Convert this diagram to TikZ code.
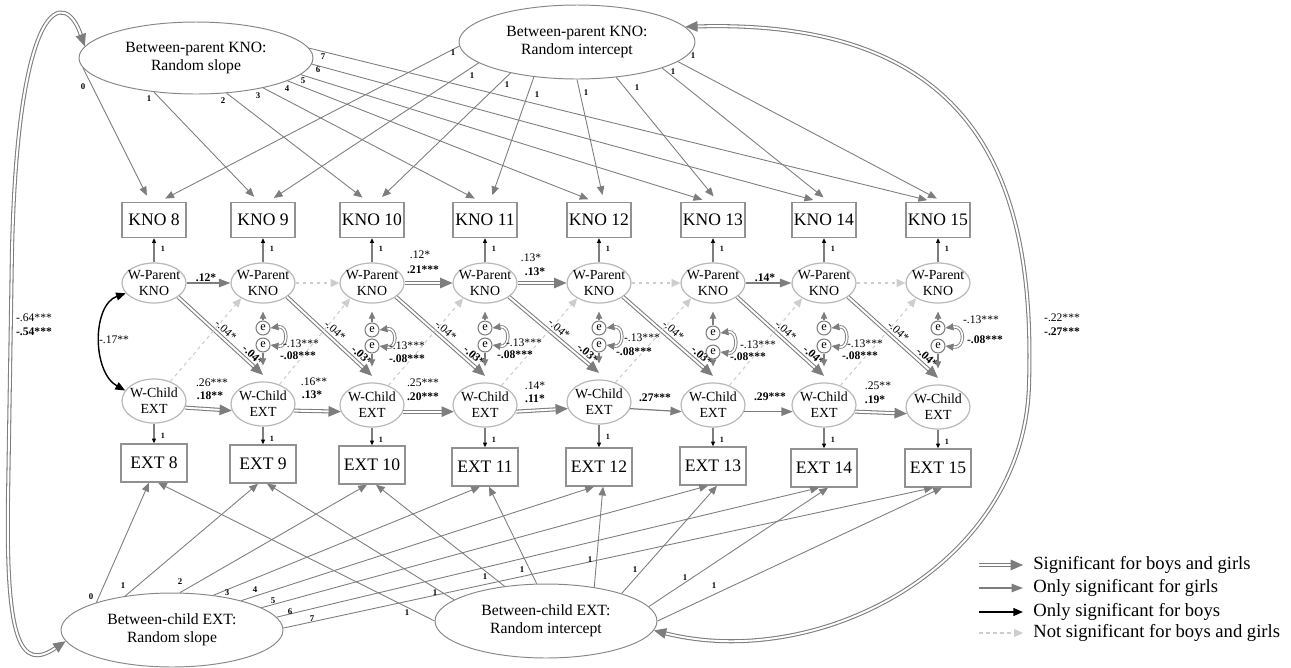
\documentclass[tikz,border=0pt]{standalone}
\usepackage{fontspec}
\setmainfont{Liberation Serif}
\usetikzlibrary{shapes.geometric,arrows.meta}
\definecolor{ln}{RGB}{125,125,125}
\definecolor{bx}{RGB}{145,145,145}
\definecolor{el}{RGB}{185,185,185}
\definecolor{ns}{RGB}{205,205,205}
\definecolor{bg}{RGB}{135,135,135}
\tikzset{
 kbox/.style={draw=bx, line width=0.8pt, minimum width=1.28cm, minimum height=0.70cm, inner sep=0pt, font=\fontsize{10}{12}\selectfont},
 ebox/.style={kbox, minimum width=1.32cm, minimum height=0.76cm},
 bell/.style={ellipse, draw=bg, line width=0.55pt, inner sep=0pt, align=center, font=\fontsize{8.9}{10.2}\selectfont},
 wtxt/.style={align=center, font=\fontsize{7.9}{9}\selectfont, inner sep=0pt},
 pell/.style={ellipse, draw=el, line width=0.7pt, minimum width=1.28cm, minimum height=0.80cm, inner sep=0pt, label={[wtxt]center:W-Parent\\KNO}},
 cell/.style={ellipse, draw=el, line width=0.7pt, minimum width=1.28cm, minimum height=0.88cm, inner sep=0pt, label={[wtxt]center:W-Child\\EXT}},
 ecirc/.style={circle, draw=ln, line width=0.6pt, minimum size=0.28cm, inner sep=0pt, font=\fontsize{7}{8}\selectfont},
 girls/.style={draw=ln, line width=0.7pt, -{Triangle[length=6.5pt,width=4.8pt]}},
 both/.style={draw=ln, line width=0.6pt, double=white, double distance=1.1pt, -{Triangle[length=7pt,width=6pt]}},
 boys/.style={draw=black, line width=0.8pt, -{Triangle[length=5.5pt,width=4.5pt]}},
 boyscov/.style={draw=black, line width=0.8pt, {Triangle[length=5.5pt,width=4.5pt]}-{Triangle[length=5.5pt,width=4.5pt]}},
 nons/.style={draw=ns, line width=0.6pt, dash pattern=on 2pt off 2pt, -{Triangle[length=5pt,width=4.5pt]}},
 load/.style={draw=ln, line width=0.5pt, -{Triangle[length=5pt,width=4.2pt]}},
 fact/.style={draw=ln, line width=0.6pt, -{Triangle[length=2.6pt,width=2.2pt,color=black]}},
 earr/.style={draw=ln, line width=0.6pt, -{Triangle[length=4pt,width=3.6pt]}},
 ecov/.style={draw=ln, line width=0.5pt, double=white, double distance=0.9pt, {Triangle[length=4.5pt,width=4pt]}-{Triangle[length=4.5pt,width=4pt]}},
 bigcov/.style={draw=ln, line width=0.6pt, double=white, double distance=1.1pt, {Triangle[length=7pt,width=6pt]}-{Triangle[length=7pt,width=6pt]}},
 cf/.style={font=\fontsize{6.6}{7.5}\selectfont, inner sep=0pt},
 one/.style={font=\bfseries\fontsize{4.6}{5}\selectfont, inner sep=0pt},
 num/.style={font=\bfseries\fontsize{5}{6}\selectfont, inner sep=0pt},
 leg/.style={font=\fontsize{10.6}{12}\selectfont, anchor=west, inner sep=0pt}
}
\begin{document}
\begin{tikzpicture}[x=0.02cm,y=-0.02cm]
\useasboundingbox (0,0) rectangle (1291,667);
% between-level latent variables
\node[bell, minimum width=4.68cm, minimum height=1.44cm] (BPS) at (196,58) {Between-parent KNO:\\Random slope};
\node[bell, minimum width=4.72cm, minimum height=1.48cm] (BPI) at (577,42) {Between-parent KNO:\\Random intercept};
\node[bell, minimum width=4.44cm, minimum height=1.48cm] (BCS) at (172,630) {Between-child EXT:\\Random slope};
\node[bell, minimum width=4.44cm, minimum height=1.48cm] (BCI) at (546,621) {Between-child EXT:\\Random intercept};
% columns
\foreach \t/\x/\cy/\ey in {8/154/401/463,9/263/404/464,10/372/405/465,11/485/405/467,12/599/402/467,13/713/405/466,14/824/405/468,15/938/407/468}{
  \node[kbox] (K\t) at (\x,220) {KNO \t};
  \node[pell] (P\t) at (\x,283) {};
  \node[cell] (C\t) at (\x,\cy) {};
  \node[ebox] (E\t) at (\x,\ey) {EXT \t};
  \draw[fact] (P\t) -- (K\t);
  \draw[fact] (C\t) -- (E\t);
  \node[one] (lk\t) at (\x+9,249) {1};
  \node[one] (le\t) at (\x+9,\cy+35) {1};
}
% top loadings
\foreach \t/\s/\i in {8/185/182,9/219/192,10/311/205,11/336/219,12/346/270,13/351/318,14/357/343,15/5/349}{
  \draw[load, shorten >=0.14cm] (BPS.\s) -- ([xshift=-0.08cm]K\t.north);
  \draw[load, shorten >=0.14cm] (BPI.\i) -- ([xshift=0.1cm]K\t.north);
}
\foreach \v/\px/\py in {0/83/87,1/149/99,2/223/101,3/258/96,4/287/89,5/303/81,6/318/70,7/323/57}
  \node[num] (ts\v) at (\px,\py) {\v};
\foreach \px/\py [count=\n] in {453/53,472/76,507/85,537/95,586/93,637/88,673/72,693/56}
  \node[num] (ti\n) at (\px,\py) {1};
% bottom loadings
\foreach \t/\s/\i in {8/160/180,9/144/167,10/78/140,11/40/104,12/23/35,13/14/20,14/7/8,15/1/0}{
  \draw[load] (BCS.\s) -- ([xshift=-0.1cm]E\t.south);
  \draw[load] (BCI.\i) -- ([xshift=0.08cm]E\t.south);
}
\foreach \v/\px/\py in {0/91/597,1/123/586,2/180/582,3/227/593,4/255/590,5/273/601,6/290/612,7/312/619}
  \node[num] (bs\v) at (\px,\py) {\v};
\foreach \px/\py [count=\n] in {407/613,435/593,485/577,522/570,590/560,635/570,685/578,714/586}
  \node[num] (bi\n) at (\px,\py) {1};
% autoregressive parent
\draw[girls] (P8) -- (P9);
\draw[nons] (P9) -- (P10);
\draw[both] (P10) -- (P11);
\draw[both] (P11) -- (P12);
\draw[nons] (P12) -- (P13);
\draw[girls] (P13) -- (P14);
\draw[nons] (P14) -- (P15);
% autoregressive child
\draw[both] (C8.-12) -- (C9.192);
\draw[both] (C9.-12) -- (C10.192);
\draw[both] (C10.-12) -- (C11.192);
\draw[both] (C11.-12) -- (C12.192);
\draw[girls] (C12.-12) -- (C13.192);
\draw[girls] (C13.-12) -- (C14.192);
\draw[both] (C14.-12) -- (C15.192);
% cross-lagged
\foreach \a/\b/\u in {8/9/.04,9/10/.03,10/11/.03,11/12/.03,12/13/.03,13/14/.04,14/15/.04}{
  \draw[both] (P\a.-30) -- ([yshift=0.13cm]C\b.north)
    node[cf, pos=0.5, above=2pt, sloped] {-.04*}
    node[cf, pos=0.82, above=2pt, sloped] {\textbf{-\u*}};
  \draw[nons] (C\a.50) -- (P\b.215);
}
% residuals
\foreach \t/\x/\u/\l/\c in {9/263/328/345/18,10/372/330/346/18,11/485/328/345/18,12/599/328/345/18,13/713/333/352/18,14/824/328/346/18,15/938/328/346/20}{
  \node[ecirc] (eu\t) at (\x,\u) {e};
  \node[ecirc] (el\t) at (\x,\l) {e};
  \draw[earr, shorten >=0.16cm] (eu\t) -- (P\t);
  \draw[earr, shorten >=0.32cm] (el\t) -- (C\t);
  \draw[ecov] (eu\t.east) .. controls +(\c,-3) and +(\c,3) .. (el\t.east);
}
\foreach \t/\ax/\ay/\bx/\by in {9/301/344/298/356,10/407/346/407/359,11/524/343/515/355,12/642/338/634/352,13/758/345/748/357,14/865/344/860/356,15/981/320/985/340}{
  \node[cf] (ra\t) at (\ax,\ay) {-.13***};
  \node[cf] (rb\t) at (\bx,\by) {\textbf{-.08***}};
}
% autoregressive labels
\node[cf] (a1) at (206,278) {\textbf{.12*}};
\node[cf] (a2) at (420,255) {.12*};
\node[cf] (a3) at (423,270) {\textbf{.21***}};
\node[cf] (a4) at (531,258) {.13*};
\node[cf] (a5) at (535,272) {\textbf{.13*}};
\node[cf] (a6) at (765,278) {\textbf{.14*}};
\node[cf] (b1) at (212,383) {.26***};
\node[cf] (b2) at (210,396) {\textbf{.18**}};
\node[cf] (b3) at (314,382) {.16**};
\node[cf] (b4) at (312,395) {\textbf{.13*}};
\node[cf] (b5) at (423,383) {.25***};
\node[cf] (b6) at (423,397) {\textbf{.20***}};
\node[cf] (b7) at (535,386) {.14*};
\node[cf] (b8) at (535,399) {\textbf{.11*}};
\node[cf] (b9) at (655,398) {\textbf{.27***}};
\node[cf] (b10) at (770,397) {\textbf{.29***}};
\node[cf] (b11) at (878,386) {.25**};
\node[cf] (b12) at (875,400) {\textbf{.19*}};
% within covariance
\draw[boyscov] (P8.200) .. controls (92,305) and (92,372) .. (C8.160);
\node[cf] (w1) at (114,340) {-.17**};
% between covariances
\draw[bigcov] (BPS.174) .. controls (65,-12) and (18,-5) .. (12,250) -- (8,500) .. controls (6,640) and (20,672) .. (BCS.186);
\node[cf] (g1) at (34,318) {-.64***};
\node[cf] (g2) at (34,332) {\textbf{-.54***}};
\draw[bigcov] (BPI.8) .. controls (985,18) and (1035,190) .. (1029,385) .. controls (1024,565) and (820,672) .. (BCI.-5);
\node[cf] (g3) at (1062,318) {-.22***};
\node[cf] (g4) at (1062,332) {\textbf{-.27***}};
% legend
\coordinate (la1) at (979,565); \coordinate (la2) at (1023,565);
\coordinate (lb1) at (979,588); \coordinate (lb2) at (1023,588);
\coordinate (lc1) at (979,612); \coordinate (lc2) at (1023,612);
\coordinate (ld1) at (979,633); \coordinate (ld2) at (1023,633);
\draw[both] (la1) -- (la2);
\draw[girls] (lb1) -- (lb2);
\draw[boys] (lc1) -- (lc2);
\draw[nons] (ld1) -- (ld2);
\node[leg] (t1) at (1033,565) {Significant for boys and girls};
\node[leg] (t2) at (1033,588) {Only significant for girls};
\node[leg] (t3) at (1033,612) {Only significant for boys};
\node[leg] (t4) at (1033,633) {Not significant for boys and girls};
\end{tikzpicture}
\end{document}
